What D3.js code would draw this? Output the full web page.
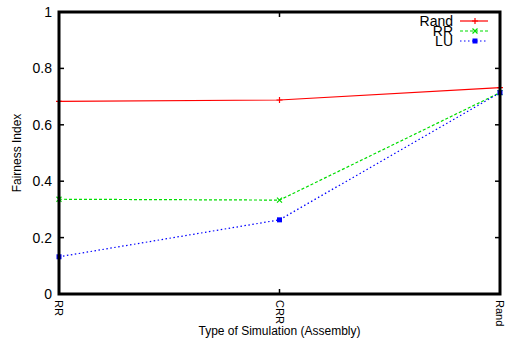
<!DOCTYPE html>
<html>
<head>
<meta charset="utf-8">
<script src="https://cdn.jsdelivr.net/npm/d3@7"></script>
<style>
  body { margin: 0; background: #fff; }
  svg { display: block; font-family: "Liberation Sans", Arial, sans-serif; }
</style>
</head>
<body>
<svg id="chart" width="511" height="345"></svg>
<script>
var categories = ["RR", "CRR", "Rand"];
var randValues = [0.683, 0.688, 0.732];
var rrValues = [0.336, 0.333, 0.714];
var luValues = [0.132, 0.263, 0.714];
var yTicks = [0, 0.2, 0.4, 0.6, 0.8, 1];

var series = [
  { name: "Rand", values: randValues, color: "#ff0000", dash: null, marker: "plus" },
  { name: "RR", values: rrValues, color: "#00dd00", dash: "3,2", marker: "cross" },
  { name: "LU", values: luValues, color: "#0000ff", dash: "1.5,2.5", marker: "square" }
];

var svg = d3.select("#chart");
var plotLeft = 59, plotRight = 500, plotTop = 12, plotBottom = 294;

var x = d3.scalePoint().domain(categories).range([plotLeft, plotRight]);
var y = d3.scaleLinear().domain([0, 1]).range([plotBottom, plotTop]);

// tick marks (inward, mirrored)
var tickG = svg.append("g").attr("stroke", "#000").attr("stroke-width", 1.5);
yTicks.slice(1, -1).forEach(function(t) {
  tickG.append("line").attr("x1", plotLeft).attr("x2", plotLeft + 5).attr("y1", y(t)).attr("y2", y(t));
  tickG.append("line").attr("x1", plotRight).attr("x2", plotRight - 5).attr("y1", y(t)).attr("y2", y(t));
});
categories.slice(1, -1).forEach(function(c) {
  tickG.append("line").attr("x1", x(c)).attr("x2", x(c)).attr("y1", plotBottom).attr("y2", plotBottom - 5);
  tickG.append("line").attr("x1", x(c)).attr("x2", x(c)).attr("y1", plotTop).attr("y2", plotTop + 5);
});

// y tick labels
svg.append("g").selectAll("text").data(yTicks).enter().append("text")
  .attr("x", 52).attr("y", function(d) { return y(d) + 5; })
  .attr("text-anchor", "end").attr("font-size", 14)
  .text(function(d) { return d === 0 || d === 1 ? d : d.toFixed(1); });

// x tick labels (rotated)
svg.append("g").selectAll("text").data(categories).enter().append("text")
  .attr("transform", function(d) { return "translate(" + (x(d) - 4) + "," + (plotBottom + 6) + ") rotate(90)"; })
  .attr("font-size", 11)
  .text(function(d) { return d; });

// axis titles
svg.append("text").attr("transform", "translate(21," + ((plotTop + plotBottom) / 2) + ") rotate(-90)")
  .attr("text-anchor", "middle").attr("font-size", 12).text("Fairness Index");
svg.append("text").attr("x", (plotLeft + plotRight) / 2).attr("y", 335)
  .attr("text-anchor", "middle").attr("font-size", 12).text("Type of Simulation (Assembly)");

function drawMarker(g, kind, cx, cy, color) {
  if (kind === "plus") {
    g.append("path").attr("d", "M" + (cx - 3) + "," + cy + "H" + (cx + 3) + "M" + cx + "," + (cy - 3) + "V" + (cy + 3))
      .attr("stroke", color).attr("stroke-width", 1.2).attr("fill", "none");
  } else if (kind === "cross") {
    g.append("path").attr("d", "M" + (cx - 2.5) + "," + (cy - 2.5) + "L" + (cx + 2.5) + "," + (cy + 2.5) + "M" + (cx - 2.5) + "," + (cy + 2.5) + "L" + (cx + 2.5) + "," + (cy - 2.5))
      .attr("stroke", color).attr("stroke-width", 1.2).attr("fill", "none");
  } else {
    g.append("rect").attr("x", cx - 2.5).attr("y", cy - 2.5).attr("width", 5).attr("height", 5).attr("fill", color);
  }
}

var line = d3.line().x(function(d, i) { return x(categories[i]); }).y(function(d) { return y(d); });

series.forEach(function(s) {
  var g = svg.append("g");
  g.append("path").datum(s.values).attr("d", line)
    .attr("fill", "none").attr("stroke", s.color).attr("stroke-width", 1.2)
    .attr("stroke-dasharray", s.dash);
  s.values.forEach(function(v, i) { drawMarker(g, s.marker, x(categories[i]), y(v), s.color); });
});

// legend
var legendY = [21, 31, 41];
series.forEach(function(s, i) {
  var g = svg.append("g");
  g.append("text").attr("x", 453).attr("y", legendY[i] + 5).attr("text-anchor", "end")
    .attr("font-size", 14).text(s.name);
  g.append("line").attr("x1", 460).attr("x2", 488).attr("y1", legendY[i]).attr("y2", legendY[i])
    .attr("stroke", s.color).attr("stroke-width", 1.2).attr("stroke-dasharray", s.dash);
  drawMarker(g, s.marker, 475, legendY[i], s.color);
});

// frame
svg.append("rect").attr("x", plotLeft).attr("y", plotTop).attr("width", plotRight - plotLeft).attr("height", plotBottom - plotTop)
  .attr("fill", "none").attr("stroke", "#000").attr("stroke-width", 3);
</script>
</body>
</html>
